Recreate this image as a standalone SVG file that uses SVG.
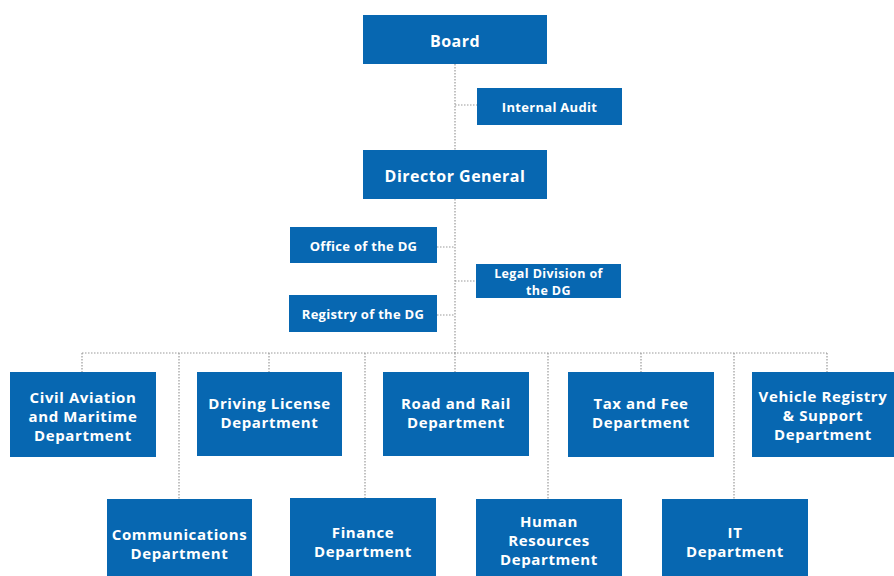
<svg xmlns="http://www.w3.org/2000/svg" width="894" height="576" viewBox="0 0 894 576">
<style>
.box{fill:#0767b1}
.t{font-family:"Open Sans",Lato,"Liberation Sans",sans-serif;font-weight:bold;fill:#fff;text-anchor:middle}
.l{font-size:16px;letter-spacing:0.5px}
.s{font-size:13px;letter-spacing:0.3px}
.s2{font-size:12.5px;letter-spacing:0.4px}
.m{font-size:15px;letter-spacing:0.6px}
.c{stroke:#9a9a9a;stroke-width:1.2;stroke-dasharray:1.5 1.5;fill:none}
</style>
<rect width="894" height="576" fill="#fff"/>
<g id="connectors">
<path class="c" d="M455 64V353"/>
<path class="c" d="M455 105H477"/>
<path class="c" d="M437 247H455"/>
<path class="c" d="M455 281H476"/>
<path class="c" d="M437 315H455"/>
<path class="c" d="M82 353H827"/>
<path class="c" d="M82 353V372M269 353V372M455 353V372M641 353V372M827 353V372"/>
<path class="c" d="M179 353V499M365 353V498M548 353V499M734 353V499"/>
</g>
<g id="board"><rect class="box" x="363" y="15" width="184" height="49"/><text class="t l" x="455" y="47">Board</text></g>
<g id="internal-audit"><rect class="box" x="477" y="88" width="145" height="37"/><text class="t s" x="549.5" y="112">Internal Audit</text></g>
<g id="director-general"><rect class="box" x="363" y="150" width="184" height="49"/><text class="t l" x="455" y="182">Director General</text></g>
<g id="office-dg"><rect class="box" x="290" y="227" width="147" height="36"/><text class="t s" x="363.5" y="251">Office of the DG</text></g>
<g id="legal-division"><rect class="box" x="476" y="264" width="145" height="34"/><text class="t s2" x="548.5" y="278">Legal Division of</text><text class="t s2" x="548.5" y="295">the DG</text></g>
<g id="registry-dg"><rect class="box" x="289" y="295" width="148" height="37"/><text class="t s" x="363" y="319">Registry of the DG</text></g>
<g id="civil-aviation"><rect class="box" x="10" y="372" width="146" height="85"/><text class="t m" x="83" y="403">Civil Aviation</text><text class="t m" x="83" y="422">and Maritime</text><text class="t m" x="83" y="441">Department</text></g>
<g id="driving-license"><rect class="box" x="197" y="372" width="145" height="84"/><text class="t m" x="269.5" y="409">Driving License</text><text class="t m" x="269.5" y="428">Department</text></g>
<g id="road-rail"><rect class="box" x="383" y="372" width="146" height="84"/><text class="t m" x="456" y="409">Road and Rail</text><text class="t m" x="456" y="428">Department</text></g>
<g id="tax-fee"><rect class="box" x="568" y="372" width="146" height="85"/><text class="t m" x="641" y="409">Tax and Fee</text><text class="t m" x="641" y="428">Department</text></g>
<g id="vehicle-registry"><rect class="box" x="752" y="372" width="142" height="85"/><text class="t m" x="823" y="402">Vehicle Registry</text><text class="t m" x="823" y="421">&amp; Support</text><text class="t m" x="823" y="440">Department</text></g>
<g id="communications"><rect class="box" x="107" y="499" width="145" height="77"/><text class="t m" x="179.5" y="540">Communications</text><text class="t m" x="179.5" y="559">Department</text></g>
<g id="finance"><rect class="box" x="290" y="498" width="146" height="78"/><text class="t m" x="363" y="538">Finance</text><text class="t m" x="363" y="557">Department</text></g>
<g id="human-resources"><rect class="box" x="476" y="499" width="146" height="77"/><text class="t m" x="549" y="527">Human</text><text class="t m" x="549" y="546">Resources</text><text class="t m" x="549" y="565">Department</text></g>
<g id="it"><rect class="box" x="662" y="499" width="146" height="77"/><text class="t m" x="735" y="538">IT</text><text class="t m" x="735" y="557">Department</text></g>
</svg>
